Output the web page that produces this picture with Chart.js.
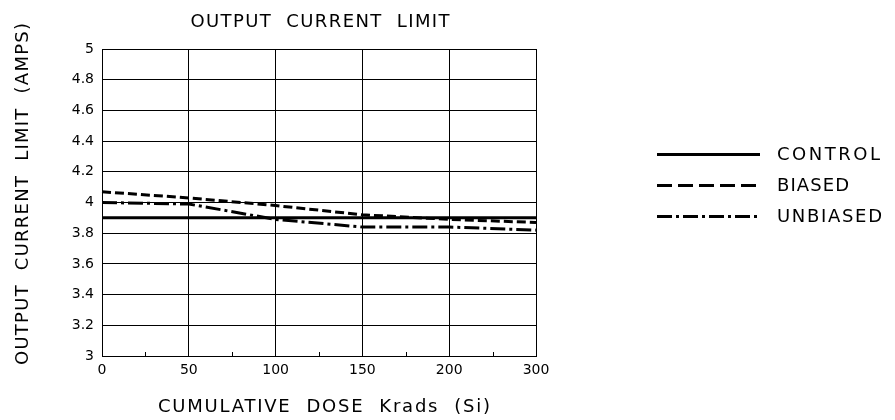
<!DOCTYPE html>
<html>
<head>
<meta charset="utf-8">
<script src="https://cdn.jsdelivr.net/npm/chart.js@4"></script>
<style>
  html, body { margin: 0; padding: 0; background: #fff; }
  #wrap { width: 895px; height: 420px; }
</style>
</head>
<body>
<div id="wrap"><canvas id="currentChart" width="895" height="420"></canvas></div>
<script>
// OUTPUT CURRENT LIMIT vs cumulative dose
const doseLabels = ['0', '50', '100', '150', '200', '300'];
const controlVals = [3.90, 3.90, 3.90, 3.90, 3.90, 3.90];
const biasedVals = [4.07, 4.03, 3.98, 3.92, 3.89, 3.87];
const unbiasedVals = [4.00, 3.99, 3.89, 3.84, 3.84, 3.82];
const seriesNames = ['CONTROL', 'BIASED', 'UNBIASED'];

const FONT = '"DejaVu Sans", Verdana, sans-serif';

// stretch text to a given width with letter spacing (cad-style lettering)
function spacedText(c, text, cx, cy, width, size) {
    c.font = size + 'px ' + FONT;
    c.letterSpacing = '0px';
    const w = c.measureText(text).width;
    const sp = Math.max(0, (width - w) / (text.length - 1));
    c.letterSpacing = sp + 'px';
    c.textAlign = 'left';
    c.textBaseline = 'middle';
    c.fillText(text, cx - width / 2, cy);
    c.letterSpacing = '0px';
}

// titles + legend drawn by hand
const extras = {
    id: 'extras',
    afterDraw(chart) {
        const c = chart.ctx;
        const area = chart.chartArea;
        const mid = (area.left + area.right) / 2;
        c.save();
        c.fillStyle = '#000';

        spacedText(c, 'OUTPUT  CURRENT  LIMIT', mid + 1, 22, 259, 18);
        spacedText(c, 'CUMULATIVE  DOSE  Krads  (Si)', mid + 5, 407, 332, 18);

        c.save();
        c.translate(23, 194);
        c.rotate(-Math.PI / 2);
        spacedText(c, 'OUTPUT  CURRENT  LIMIT  (AMPS)', 0, 0, 342, 18);
        c.restore();

        // legend
        const dashes = [[], [15, 6], [15, 4, 3, 4]];
        const widths = [103, 72, 105];
        c.strokeStyle = '#000';
        c.lineWidth = 3;
        seriesNames.forEach((name, i) => {
            const y = 154.5 + i * 31;
            c.setLineDash(dashes[i]);
            c.beginPath();
            c.moveTo(657, y);
            c.lineTo(760, y);
            c.stroke();
            c.setLineDash([]);
            spacedText(c, name, 777 + widths[i] / 2, y + 1, widths[i], 18);
        });

        // small ticks halfway between x gridlines
        const xs = chart.scales.x;
        c.lineWidth = 1;
        for (let i = 0; i < doseLabels.length - 1; i++) {
            const x = Math.round((xs.getPixelForTick(i) + xs.getPixelForTick(i + 1)) / 2) + 0.5;
            c.beginPath();
            c.moveTo(x, area.bottom);
            c.lineTo(x, area.bottom - 4);
            c.stroke();
        }
        c.restore();
    }
};

const ctx = document.getElementById('currentChart');

new Chart(ctx, {
    type: 'line',
    data: {
        labels: doseLabels,
        datasets: [{
            label: seriesNames[0],
            data: controlVals,
            borderColor: '#000',
            borderWidth: 3,
            pointRadius: 0,
            tension: 0
        }, {
            label: seriesNames[1],
            data: biasedVals,
            borderColor: '#000',
            borderWidth: 3,
            borderDash: [9, 4],
            pointRadius: 0,
            tension: 0
        }, {
            label: seriesNames[2],
            data: unbiasedVals,
            borderColor: '#000',
            borderWidth: 3,
            borderDash: [15, 4, 3, 4],
            pointRadius: 0,
            tension: 0
        }]
    },
    options: {
        responsive: false,
        animation: false,
        layout: { padding: { left: 0, right: 359, top: 49, bottom: 0 } },
        plugins: {
            legend: { display: false },
            tooltip: { enabled: false },
            title: { display: false }
        },
        scales: {
            x: {
                type: 'category',
                offset: false,
                grid: { color: '#000', lineWidth: 1, drawTicks: false },
                border: { color: '#000', width: 1 },
                ticks: {
                    color: '#000',
                    font: { family: FONT, size: 14 },
                    padding: 6,
                    maxRotation: 0
                },
                afterFit: s => { s.height = 64; }
            },
            y: {
                min: 3,
                max: 5,
                grid: { color: '#000', lineWidth: 1, drawTicks: false },
                border: { color: '#000', width: 1 },
                ticks: {
                    stepSize: 0.2,
                    color: '#000',
                    font: { family: FONT, size: 14 },
                    padding: 8,
                    callback: v => String(+v.toFixed(1))
                },
                afterFit: s => { s.width = 102; }
            }
        }
    },
    plugins: [extras]
});
</script>
</body>
</html>
